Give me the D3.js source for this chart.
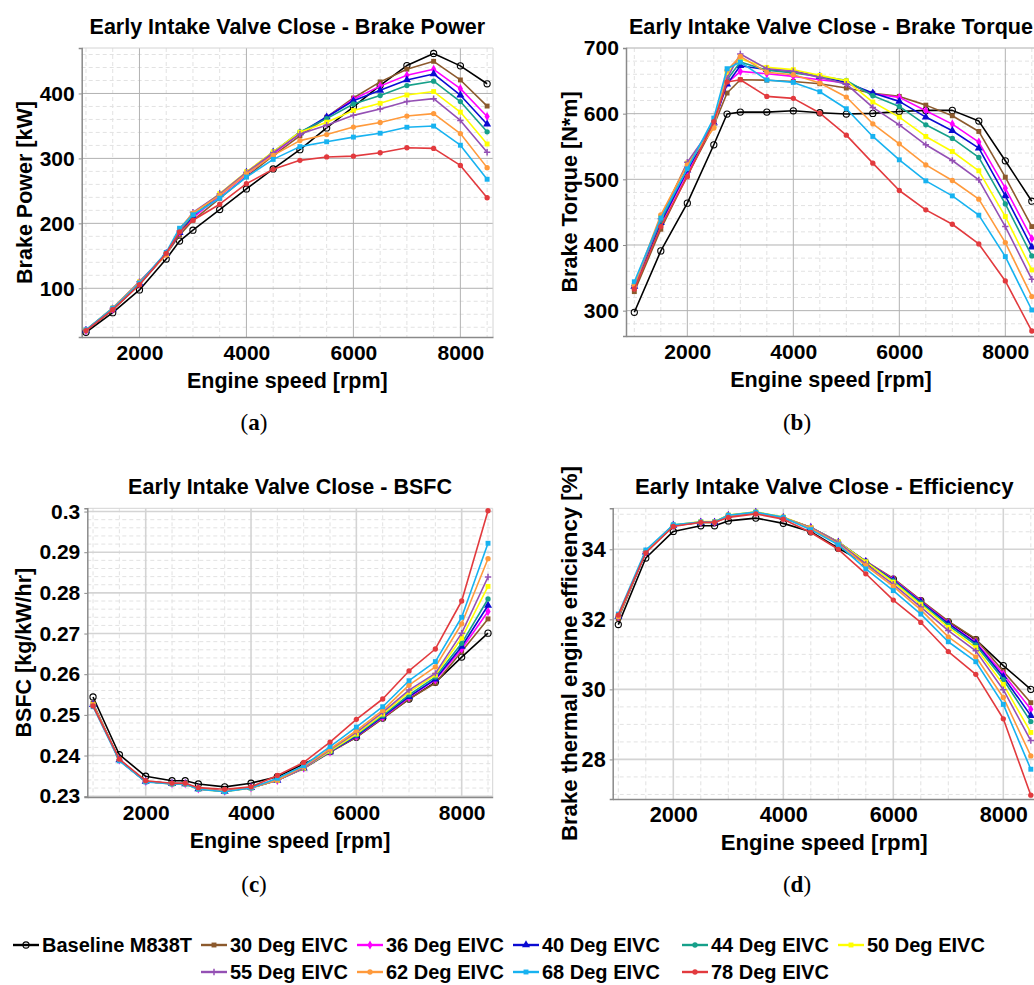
<!DOCTYPE html>
<html>
<head>
<meta charset="utf-8">
<script src="https://cdn.jsdelivr.net/npm/d3@7"></script>
<style>
  body { margin: 0; background: #fff; }
  svg text { font-family: "Liberation Sans", Arial, sans-serif; font-weight: bold; fill: #000; }
  svg text.tag { font-family: "Liberation Serif", "Times New Roman", serif; font-weight: normal; }
</style>
</head>
<body>
<svg id="fig" width="1034" height="985"></svg>
<script>
// Engine speed sweep [rpm]
const rpm = [1000, 1500, 2000, 2500, 2750, 3000, 3500, 4000, 4500, 5000, 5500, 6000, 6500, 7000, 7500, 8000, 8500];

const seriesNames = ["Baseline M838T", "30 Deg EIVC", "36 Deg EIVC", "40 Deg EIVC", "44 Deg EIVC",
  "50 Deg EIVC", "55 Deg EIVC", "62 Deg EIVC", "68 Deg EIVC", "78 Deg EIVC"];

// Brake power [kW], one row per configuration
const powerKW = [
  [32.3, 62.4, 97.5, 145.0, 172.7, 189.5, 221.2, 253.0, 283.8, 313.5, 347.0, 379.5, 412.5, 443.0, 461.6, 442.5, 414.9],
  [34.4, 66.6, 106.0, 152.4, 181.8, 204.7, 238.6, 271.8, 304.2, 334.7, 363.4, 393.0, 417.8, 437.4, 449.5, 420.8, 380.6],
  [35.1, 67.8, 107.0, 153.2, 186.2, 208.7, 242.2, 275.1, 307.1, 338.6, 363.1, 391.0, 411.3, 428.0, 437.2, 407.4, 364.6],
  [35.3, 68.2, 107.6, 153.4, 185.8, 211.4, 244.5, 278.3, 309.5, 339.1, 363.7, 388.7, 404.8, 420.7, 430.0, 397.3, 352.6],
  [35.6, 68.6, 108.3, 153.9, 187.7, 213.2, 244.1, 277.3, 309.5, 340.7, 361.3, 383.8, 396.8, 412.1, 418.9, 387.5, 340.9],
  [35.4, 69.6, 110.0, 152.0, 190.6, 214.6, 245.7, 279.4, 310.2, 340.4, 355.8, 373.7, 384.8, 397.6, 402.9, 371.3, 322.2],
  [35.4, 69.1, 110.2, 152.6, 188.3, 217.0, 245.0, 278.3, 308.8, 337.7, 351.0, 366.3, 376.1, 387.6, 392.0, 358.5, 309.5],
  [35.5, 70.0, 109.3, 151.3, 191.8, 215.9, 243.0, 276.2, 304.7, 327.4, 336.7, 348.2, 355.3, 365.2, 369.0, 338.2, 285.8],
  [36.0, 69.3, 108.1, 155.3, 192.5, 213.2, 238.7, 271.3, 298.5, 318.1, 325.6, 332.8, 338.8, 348.0, 349.8, 320.3, 267.9],
  [34.9, 67.2, 105.5, 153.9, 186.7, 204.7, 229.5, 261.1, 283.2, 297.0, 302.2, 303.5, 308.7, 316.4, 315.4, 289.2, 239.4]
];

// Brake torque [N*m]
const torqueNm = [
  [297.5, 391, 463.7, 552.6, 599.4, 602.4, 602.4, 604.4, 601.4, 599.4, 600.4, 603.4, 605, 605, 588.7, 528.2, 466.7],
  [329, 424, 506, 582, 631.4, 651.7, 651, 649, 645.6, 639, 631, 626.3, 613, 596.8, 572.9, 503.3, 428],
  [335.6, 432, 511, 585, 646.6, 664.4, 660.9, 656.8, 651.7, 646.6, 630.4, 624.8, 604.4, 584.1, 556.7, 486.5, 409.8],
  [337, 434, 514, 586, 645, 673, 667, 664.4, 656.8, 647.6, 631.4, 618.7, 594.8, 574, 547.5, 474.8, 396.6],
  [340, 437, 517, 588, 651.7, 678.7, 666, 661.9, 656.8, 650.7, 627.3, 611, 583, 562.3, 533.3, 462.6, 383.4],
  [338, 443, 525, 580.6, 661.9, 683.2, 670.5, 667, 658.3, 650.2, 617.7, 594.8, 565.3, 542.4, 513, 443.3, 362],
  [338, 440, 526, 583, 654, 690.9, 668.5, 664.4, 655.3, 645, 609.5, 583, 552.6, 528.7, 499.2, 428, 347.8],
  [339, 446, 522, 578, 666, 687.3, 663, 659.3, 646.6, 625.3, 584.6, 554.1, 522, 498.2, 469.8, 403.7, 321.4],
  [344, 441, 516, 593.3, 668.5, 678.7, 651.2, 647.6, 633.4, 607.5, 565.3, 529.7, 497.7, 474.8, 445.4, 382.3, 301],
  [333, 428, 504, 587.7, 648.2, 651.7, 626.3, 623.3, 600.9, 567.3, 524.6, 483, 453.5, 431.6, 401.6, 345.2, 269]
];

// Brake specific fuel consumption [kg/kW/hr]
const bsfc = [
  [0.2544, 0.2402, 0.2349, 0.2338, 0.2338, 0.2330, 0.2323, 0.2332, 0.2348, 0.2379, 0.2410, 0.2445, 0.2492, 0.2539, 0.2580, 0.2642, 0.2701],
  [0.2529, 0.2389, 0.2336, 0.2331, 0.2331, 0.2318, 0.2312, 0.2321, 0.2339, 0.2368, 0.2408, 0.2445, 0.2491, 0.2539, 0.2578, 0.2656, 0.2736],
  [0.2525, 0.2389, 0.2336, 0.2331, 0.2331, 0.2318, 0.2312, 0.2321, 0.2339, 0.2369, 0.2409, 0.2447, 0.2494, 0.2543, 0.2586, 0.2662, 0.2754],
  [0.2525, 0.2389, 0.2336, 0.2331, 0.2330, 0.2318, 0.2312, 0.2321, 0.2339, 0.2369, 0.2409, 0.2448, 0.2496, 0.2545, 0.2588, 0.2668, 0.2769],
  [0.2525, 0.2389, 0.2336, 0.2330, 0.2330, 0.2318, 0.2312, 0.2321, 0.2339, 0.2369, 0.2410, 0.2450, 0.2498, 0.2549, 0.2593, 0.2676, 0.2785],
  [0.2525, 0.2389, 0.2336, 0.2330, 0.2330, 0.2317, 0.2311, 0.2320, 0.2339, 0.2369, 0.2411, 0.2453, 0.2502, 0.2556, 0.2598, 0.2689, 0.2816],
  [0.2525, 0.2389, 0.2336, 0.2331, 0.2331, 0.2318, 0.2312, 0.2321, 0.2339, 0.2369, 0.2414, 0.2457, 0.2506, 0.2561, 0.2602, 0.2701, 0.2839],
  [0.2525, 0.2388, 0.2336, 0.2331, 0.2331, 0.2318, 0.2312, 0.2321, 0.2340, 0.2373, 0.2416, 0.2461, 0.2511, 0.2573, 0.2618, 0.2724, 0.2884],
  [0.2520, 0.2387, 0.2335, 0.2330, 0.2330, 0.2317, 0.2311, 0.2320, 0.2344, 0.2375, 0.2422, 0.2470, 0.2520, 0.2584, 0.2631, 0.2740, 0.2922],
  [0.2522, 0.2391, 0.2338, 0.2332, 0.2332, 0.2321, 0.2317, 0.2323, 0.2351, 0.2383, 0.2433, 0.2489, 0.2539, 0.2608, 0.2662, 0.2780, 0.3002]
];

// Brake thermal efficiency [%]
const efficiency = [
  [31.85, 33.75, 34.51, 34.67, 34.67, 34.81, 34.89, 34.74, 34.50, 34.03, 33.60, 33.15, 32.53, 31.93, 31.42, 30.68, 30.00],
  [32.02, 33.92, 34.68, 34.76, 34.76, 34.95, 35.04, 34.90, 34.62, 34.20, 33.66, 33.17, 32.55, 31.95, 31.44, 30.52, 29.62],
  [32.08, 33.92, 34.68, 34.77, 34.77, 34.96, 35.05, 34.90, 34.62, 34.20, 33.65, 33.14, 32.52, 31.90, 31.35, 30.44, 29.43],
  [32.08, 33.92, 34.68, 34.77, 34.77, 34.96, 35.05, 34.90, 34.62, 34.20, 33.65, 33.12, 32.50, 31.88, 31.32, 30.36, 29.25],
  [32.08, 33.93, 34.69, 34.78, 34.78, 34.97, 35.06, 34.91, 34.62, 34.21, 33.65, 33.10, 32.47, 31.83, 31.27, 30.28, 29.08],
  [32.09, 33.94, 34.69, 34.79, 34.79, 34.98, 35.07, 34.92, 34.62, 34.21, 33.64, 33.06, 32.42, 31.77, 31.19, 30.14, 28.77],
  [32.08, 33.93, 34.68, 34.77, 34.77, 34.96, 35.05, 34.90, 34.62, 34.20, 33.58, 33.00, 32.35, 31.68, 31.10, 29.99, 28.54],
  [32.08, 33.94, 34.68, 34.77, 34.77, 34.96, 35.05, 34.90, 34.60, 34.15, 33.53, 32.94, 32.27, 31.50, 30.93, 29.77, 28.10],
  [32.15, 33.98, 34.70, 34.78, 34.78, 34.97, 35.06, 34.91, 34.56, 34.13, 33.44, 32.82, 32.15, 31.36, 30.79, 29.57, 27.72],
  [32.12, 33.90, 34.65, 34.77, 34.77, 34.91, 35.01, 34.86, 34.48, 34.00, 33.30, 32.55, 31.91, 31.08, 30.43, 29.16, 26.98]
];

// Axis tick values
const speedTicks = [2000, 4000, 6000, 8000];
const powerTicks = [100, 200, 300, 400];
const torqueTicks = [300, 400, 500, 600, 700];
const bsfcTicks = [0.23, 0.24, 0.25, 0.26, 0.27, 0.28, 0.29, 0.30];
const effTicks = [28, 30, 32, 34];

// Per-series styling
const colors = ["#000000", "#8c5a2d", "#ff00ff", "#0a0ad2", "#16a08a", "#ffff00",
  "#9450b4", "#ff9a3c", "#17b2f0", "#e23a3e"];
const shapes = ["ring", "square", "diamond", "triangle", "circle", "square",
  "plus", "circle", "square", "circle"];

const svg = d3.select("#fig");
svg.append("rect").attr("width", 1034).attr("height", 985).attr("fill", "#fff");

const panels = [
  { values: powerKW, ticks: powerTicks, minor: 20, title: "Early Intake Valve Close - Brake Power",
    yLabel: "Brake Power [kW]", tag: "a", l: 81.7, r: 493, t: 48, b: 337, fs: 21.5,
    xDom: [920, 8610], yDom: [25, 470], grid: "#b2b2b2", gridW: 1, yTitleX: 31.7, tagX: 254, tagY: 430 },
  { values: torqueNm, ticks: torqueTicks, minor: 20, title: "Early Intake Valve Close - Brake Torque",
    yLabel: "Brake Torque [N*m]", tag: "b", l: 626, r: 1036, t: 48, b: 336, fs: 21.6,
    xDom: [843, 8579], yDom: [261.4, 700], grid: "#b2b2b2", gridW: 1, yTitleX: 576.7, tagX: 797, tagY: 430 },
  { values: bsfc, ticks: bsfcTicks, minor: 0.002, title: "Early Intake Valve Close - BSFC",
    yLabel: "BSFC [kg/kW/hr]", tag: "c", l: 87.3, r: 492.7, t: 508.3, b: 797, fs: 21.5,
    xDom: [891, 8589], yDom: [0.2298, 0.3008], grid: "#d4d4d4", gridW: 1.6, yTitleX: 31, tagX: 254, tagY: 892 },
  { values: efficiency, ticks: effTicks, minor: 0.5, title: "Early Intake Valve Close - Efficiency",
    yLabel: "Brake thermal engine efficiency [%]", tag: "d", l: 612.7, r: 1035.7, t: 508.3, b: 799, fs: 22.2,
    xDom: [898, 8589], yDom: [26.87, 35.17], grid: "#d4d4d4", gridW: 1.6, yTitleX: 577, tagX: 797, tagY: 892 }
];

function symbolPath(shape) {
  switch (shape) {
    case "square": return d3.symbol(d3.symbolSquare, 24)();
    case "diamond": return d3.symbol(d3.symbolDiamond, 24)();
    case "triangle": return d3.symbol(d3.symbolTriangle, 28)();
    case "circle": return d3.symbol(d3.symbolCircle, 22)();
    case "plus": return "M-3.2,0H3.2M0,-3.2V3.2";
    default: return d3.symbol(d3.symbolCircle, 30)();
  }
}

function drawMarker(g, shape, color, cx, cy) {
  const p = g.append("path")
    .attr("d", symbolPath(shape))
    .attr("transform", `translate(${cx},${cy})`);
  if (shape === "ring") {
    p.attr("fill", "none").attr("stroke", color).attr("stroke-width", 1.1);
  } else if (shape === "plus") {
    p.attr("fill", "none").attr("stroke", color).attr("stroke-width", 1.5);
  } else {
    p.attr("fill", color);
  }
}

function minorValues(dom, step, majors) {
  const out = [];
  const start = Math.ceil(dom[0] / step - 1e-9);
  const end = Math.floor(dom[1] / step + 1e-9);
  for (let i = start; i <= end; i++) {
    const v = +(i * step).toFixed(6);
    if (!majors.some(m => Math.abs(m - v) < step / 10)) out.push(v);
  }
  return out;
}

panels.forEach(P => {
  const x = d3.scaleLinear().domain(P.xDom).range([P.l, P.r]);
  const y = d3.scaleLinear().domain(P.yDom).range([P.b, P.t]);
  const g = svg.append("g");

  // minor grid
  const xMinor = minorValues(P.xDom, 500, speedTicks);
  const yMinor = minorValues(P.yDom, P.minor, P.ticks);
  g.append("g").selectAll("line").data(xMinor).join("line")
    .attr("x1", d => x(d)).attr("x2", d => x(d)).attr("y1", P.t).attr("y2", P.b)
    .attr("stroke", "#e2e2e2").attr("stroke-width", 1).attr("stroke-dasharray", "4,3");
  g.append("g").selectAll("line").data(yMinor).join("line")
    .attr("x1", P.l).attr("x2", P.r).attr("y1", d => y(d)).attr("y2", d => y(d))
    .attr("stroke", "#e2e2e2").attr("stroke-width", 1).attr("stroke-dasharray", "4,3");

  // major grid
  g.append("g").selectAll("line").data(speedTicks).join("line")
    .attr("x1", d => x(d)).attr("x2", d => x(d)).attr("y1", P.t).attr("y2", P.b)
    .attr("stroke", P.grid).attr("stroke-width", P.gridW);
  g.append("g").selectAll("line").data(P.ticks.filter(v => v >= P.yDom[0] && v <= P.yDom[1])).join("line")
    .attr("x1", P.l).attr("x2", P.r).attr("y1", d => y(d)).attr("y2", d => y(d))
    .attr("stroke", P.grid).attr("stroke-width", P.gridW);

  // frame: light top/right, darker axes
  g.append("line").attr("x1", P.l).attr("x2", P.r).attr("y1", P.t).attr("y2", P.t)
    .attr("stroke", "#d4d4d4").attr("stroke-width", 1);
  g.append("line").attr("x1", P.r).attr("x2", P.r).attr("y1", P.t).attr("y2", P.b)
    .attr("stroke", "#d4d4d4").attr("stroke-width", 1);

  const xAxis = d3.axisBottom(x).tickValues(speedTicks).tickSize(0).tickPadding(8)
    .tickFormat(d3.format("d"));
  const yAxis = d3.axisLeft(y).tickValues(P.ticks).tickSize(3).tickPadding(4)
    .tickFormat(d => String(+d.toFixed(3)));

  const gx = g.append("g").attr("transform", `translate(0,${P.b})`).call(xAxis);
  gx.select(".domain").attr("stroke", "#8a8a8a").attr("stroke-width", 1.5);
  gx.selectAll("text").attr("font-size", P.fs - 0.5).attr("dy", "0.71em").attr("y", 8);

  const gy = g.append("g").attr("transform", `translate(${P.l},0)`).call(yAxis);
  gy.select(".domain").attr("stroke", "#8a8a8a").attr("stroke-width", 1.5);
  gy.selectAll(".tick line").attr("stroke", "#8a8a8a");
  gy.selectAll("text").attr("font-size", P.fs - 0.5).attr("x", -7);

  // titles
  const cx = (P.l + P.r) / 2, cy = (P.t + P.b) / 2;
  g.append("text").attr("x", cx).attr("y", P.t - 14).attr("text-anchor", "middle")
    .attr("font-size", P.fs).text(P.title);
  g.append("text").attr("x", cx).attr("y", P.b + 51).attr("text-anchor", "middle")
    .attr("font-size", P.fs).text("Engine speed [rpm]");
  g.append("text").attr("transform", `translate(${P.yTitleX},${cy}) rotate(-90)`)
    .attr("text-anchor", "middle").attr("font-size", P.fs).text(P.yLabel);

  // series
  const line = d3.line().x((d, i) => x(rpm[i])).y(d => y(d));
  P.values.forEach((vals, s) => {
    const sg = g.append("g");
    sg.append("path").attr("d", line(vals)).attr("fill", "none")
      .attr("stroke", colors[s]).attr("stroke-width", 1.6).attr("stroke-linejoin", "round");
    vals.forEach((v, i) => drawMarker(sg, shapes[s], colors[s], x(rpm[i]), y(v)));
  });

  // subfigure tag
  const t = svg.append("text").attr("class", "tag").attr("x", P.tagX).attr("y", P.tagY)
    .attr("text-anchor", "middle").attr("font-size", 23);
  t.append("tspan").text("(");
  t.append("tspan").attr("font-weight", "bold").text(P.tag);
  t.append("tspan").text(")");
});

// legend
const legendPos = [
  [26, 945], [214, 945], [370, 945], [526, 945], [695, 945], [851, 945],
  [214, 972], [370, 972], [526, 972], [695, 972]
];
const lg = svg.append("g");
seriesNames.forEach((name, s) => {
  const [lx, ly] = legendPos[s];
  lg.append("line").attr("x1", lx - 13).attr("x2", lx + 13).attr("y1", ly).attr("y2", ly)
    .attr("stroke", colors[s]).attr("stroke-width", 2.4);
  drawMarker(lg, shapes[s], colors[s], lx, ly);
  lg.append("text").attr("x", lx + 16).attr("y", ly).attr("dy", "0.36em")
    .attr("font-size", 20).text(name);
});
</script>
</body>
</html>
